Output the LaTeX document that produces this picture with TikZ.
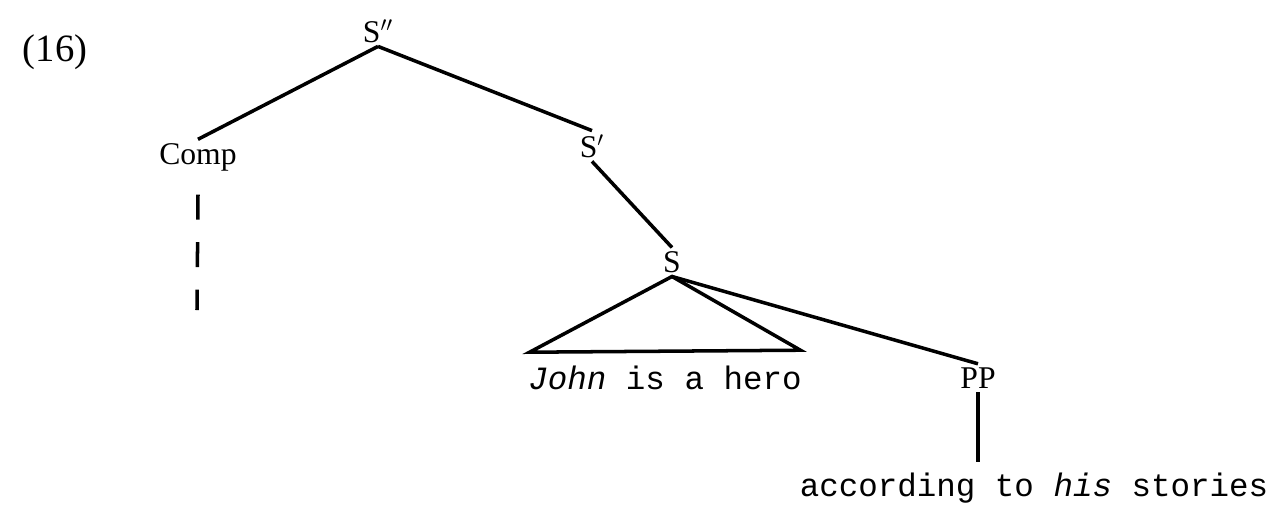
\documentclass[tikz,border=0pt]{standalone}
\usepackage{fontspec}
\setmainfont{Liberation Serif}
\setmonofont{Liberation Mono}
\usepackage{tikz}
\usetikzlibrary{calc}

\begin{document}
\begin{tikzpicture}[
  cat/.style={inner sep=2pt, font=\fontsize{18}{20}\selectfont},
  leaf/.style={inner sep=2pt, font=\ttfamily\fontsize{18.5}{20}\selectfont},
  edge/.style={line width=2pt},
  gap/.style={line width=2pt, dash pattern=on 0.5cm off 0.45cm}
]
  \useasboundingbox (0,0) rectangle (25.62,-10.32);
  \node[font=\fontsize{22}{24}\selectfont] (num) at (1.10,-1.04) {(16)};
  \node[cat] (spp) at (7.56,-0.62) {S$''$};
  \node[cat] (comp) at (3.96,-3.14) {Comp};
  \node[cat] (sp) at (11.84,-2.92) {S$'$};
  \node[cat] (s) at (13.44,-5.24) {S};
  \node[leaf] (hero) at (13.30,-7.56) {\textit{John} is a hero};
  \node[cat] (pp) at (19.56,-7.56) {PP};
  \node[leaf] (acc) at (20.68,-9.76) {according to \textit{his} stories};
  \coordinate (compend) at (3.94,-6.20);
  \draw[edge] (spp.south) -- (comp.north);
  \draw[edge] (spp.south) -- (sp.north);
  \draw[edge] (sp.south) -- (s.north);
  \draw[edge] (s.south) -- ($(hero.north west)+(0.1,0.2)$) -- ($(hero.north east)+(-0.1,0.24)$) -- cycle;
  \draw[edge] (s.south) -- (pp.north);
  \draw[edge, shorten >=0.15cm] (pp.south) -- (pp.south |- acc.north);
  \draw[gap] ($(comp.south)+(0,-0.4)$) -- (compend);
\end{tikzpicture}
\end{document}
